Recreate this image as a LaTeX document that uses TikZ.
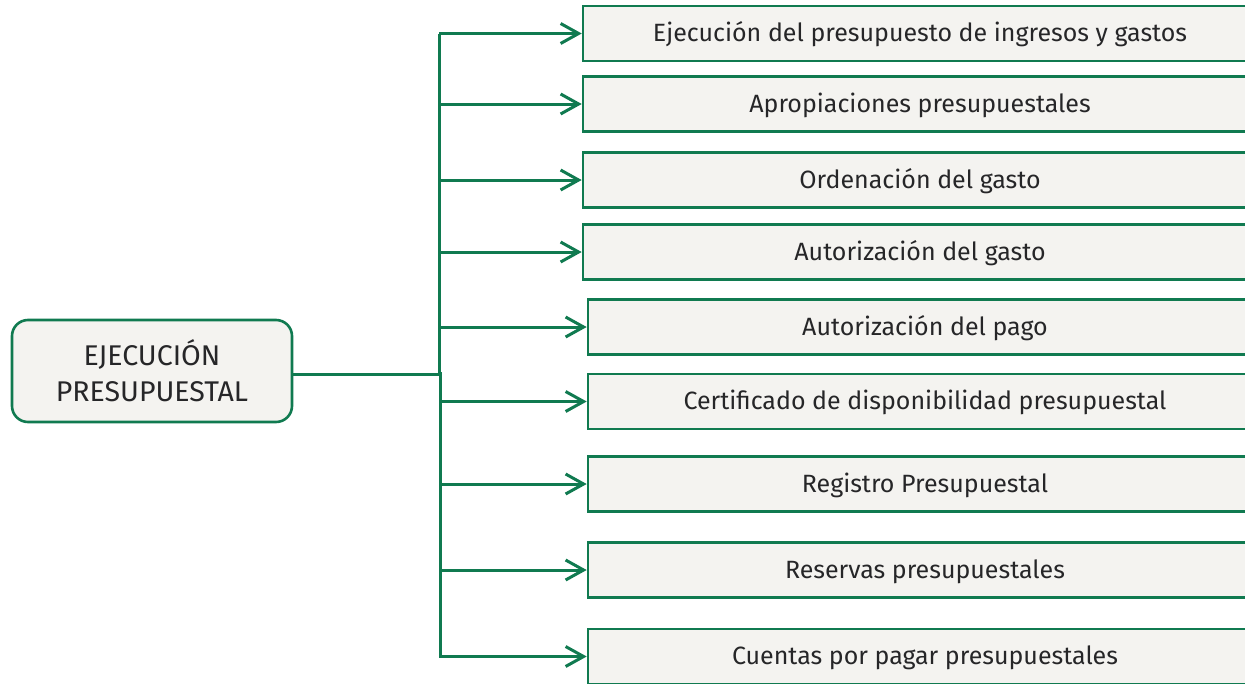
\documentclass[tikz,border=0pt]{standalone}
\usepackage{fontspec}
\setmainfont{Fira Sans}
\usetikzlibrary{arrows.meta}
\definecolor{gr}{RGB}{16,122,80}
\definecolor{bx}{RGB}{244,243,240}
\definecolor{tx}{RGB}{38,38,40}
\tikzset{
  item/.style={draw=gr, line width=2.6pt, fill=bx, minimum width=674pt, minimum height=55pt, inner sep=0pt, text=tx, text height=18pt, text depth=2pt, font=\fontsize{25}{30}\selectfont},
  mainbox/.style={draw=gr, line width=2.6pt, fill=bx, rounded corners=16pt, minimum width=280pt, minimum height=102pt, align=center, text=tx, font=\fontsize{28.5}{36}\selectfont},
  conn/.style={draw=gr, line width=3pt},
  arr/.style={conn, -{Straight Barb[length=18pt,width=20pt,line width=3pt]}}
}
\begin{document}
\begin{tikzpicture}[x=1pt,y=-1pt]
\useasboundingbox (0,0) rectangle (1245,683);
\clip (0,0) rectangle (1245,683);
\node[mainbox] (m) at (152,371) {EJECUCIÓN\\PRESUPUESTAL};
\node[item] (b1) at (920,33.5) {Ejecución del presupuesto de ingresos y gastos};
\node[item] (b2) at (920,104) {Apropiaciones presupuestales};
\node[item] (b3) at (920,180) {Ordenación del gasto};
\node[item] (b4) at (920,252) {Autorización del gasto};
\node[item] (b5) at (925,327) {Autorización del pago};
\node[item] (b6) at (925,401.5) {Certificado de disponibilidad presupuestal};
\node[item] (b7) at (925,484) {Registro Presupuestal};
\node[item] (b8) at (925,570) {Reservas presupuestales};
\node[item] (b9) at (925,656.5) {Cuentas por pagar presupuestales};
\coordinate (j) at (440,374);
\coordinate (t1) at (439,33.5);
\coordinate (t9) at (440,656.5);
\draw[conn] (m.east |- j) -- (j);
\draw[conn] (t1) -- (439,374);
\draw[conn] (440,372) -- (t9);
\foreach \i in {1,...,9} {
  \draw[arr] (439,0 |- b\i.west) -- (b\i.west);
}
\end{tikzpicture}
\end{document}
